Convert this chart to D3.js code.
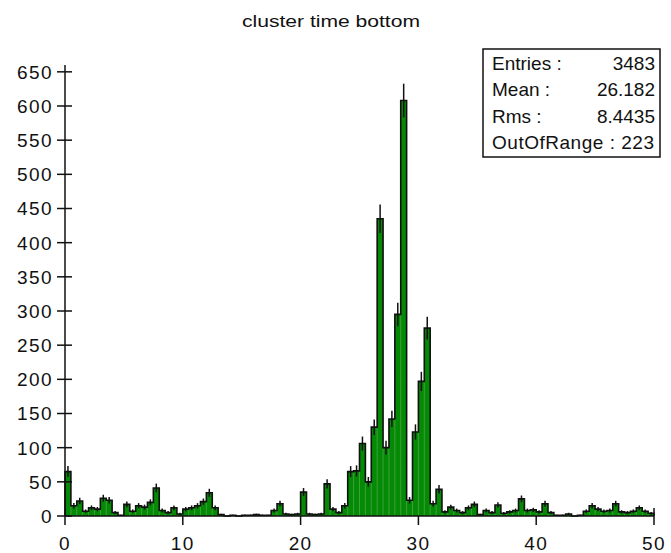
<!DOCTYPE html>
<html>
<head>
<meta charset="utf-8">
<script src="https://cdn.jsdelivr.net/npm/d3@7"></script>
<style>
  body { margin: 0; background: #fff; }
  text { font-family: "Liberation Sans", Arial, sans-serif; fill: #111; }
</style>
</head>
<body>
<div id="chart"></div>
<script>
const title = "cluster time  bottom";
const binLow = 0, binHigh = 50, binWidth = 0.5;
const counts = [
    65, 15, 22, 7, 12, 10, 26, 23, 5, 1,
    17, 7, 15, 13, 20, 41, 8, 5, 12, 3,
    10, 12, 15, 21, 34, 12, 2, 0, 1, 0,
    1, 1, 2, 1, 1, 8, 18, 3, 2, 3,
    35, 3, 2, 3, 47, 10, 5, 15, 65, 66,
    106, 50, 130, 435, 100, 142, 295, 608, 23, 123,
    197, 275, 18, 39, 6, 13, 8, 5, 12, 17,
    2, 8, 5, 16, 4, 6, 8, 25, 8, 9,
    6, 18, 5, 1, 1, 3, 0, 1, 7, 15,
    10, 7, 8, 18, 6, 5, 7, 12, 7, 4
];
const xTicks = [0, 10, 20, 30, 40, 50];
const yTicks = d3.range(0, 651, 50);
const statLabels = ["Entries :", "Mean :", "Rms :", "OutOfRange : 223"];
const statValues = ["3483", "26.182", "8.4435", ""];

const W = 671, H = 553;
const margin = { top: 65, right: 17, bottom: 37, left: 65 };

const svg = d3.select("#chart").append("svg")
    .attr("width", W).attr("height", H);

const x = d3.scaleLinear().domain([binLow, binHigh]).range([margin.left, W - margin.right]);
const y = d3.scaleLinear().domain([0, 660]).range([H - margin.bottom, margin.top]);

const bins = counts.map((c, i) => ({ x0: binLow + i * binWidth, x1: binLow + (i + 1) * binWidth, n: c }));

// histogram outline points (step after), closed on the baseline
const pts = [[binLow, 0]].concat(bins.map(b => [b.x0, b.n]),
    [[binHigh, counts[counts.length - 1]], [binHigh, 0]]);
const step = d3.line().x(d => x(d[0])).y(d => y(d[1])).curve(d3.curveStepAfter);

svg.append("path")
    .attr("d", step(pts))
    .attr("fill", "#058a05")
    .attr("stroke", "none");

// faint bin separators inside the fill
svg.append("g").selectAll("line")
    .data(bins.slice(1))
    .join("line")
    .attr("x1", d => x(d.x0)).attr("x2", d => x(d.x0))
    .attr("y1", y(0))
    .attr("y2", (d, i) => y(Math.min(d.n, bins[i].n)))
    .attr("stroke", "#4aa64a")
    .attr("stroke-width", 0.8);

svg.append("path")
    .attr("d", step(pts))
    .attr("fill", "none")
    .attr("stroke", "#111")
    .attr("stroke-width", 1.6);

// error bars
svg.append("g").selectAll("line")
    .data(bins.filter(b => b.n > 0))
    .join("line")
    .attr("x1", d => x((d.x0 + d.x1) / 2)).attr("x2", d => x((d.x0 + d.x1) / 2))
    .attr("y1", d => y(d.n - Math.sqrt(d.n)))
    .attr("y2", d => y(d.n + Math.sqrt(d.n)))
    .attr("stroke", "#111")
    .attr("stroke-width", 1.5);

// axes
const axisG = svg.append("g").attr("stroke", "#111").attr("stroke-width", 1.5);
axisG.append("line")
    .attr("x1", x(binLow)).attr("x2", x(binLow))
    .attr("y1", y(0)).attr("y2", margin.top);
axisG.append("line")
    .attr("x1", x(binLow)).attr("x2", x(binHigh))
    .attr("y1", y(0)).attr("y2", y(0));

axisG.selectAll(".ytick")
    .data(yTicks)
    .join("line")
    .attr("x1", x(binLow) - 8).attr("x2", x(binLow) + 7)
    .attr("y1", d => y(d)).attr("y2", d => y(d));

axisG.selectAll(".xtick")
    .data(xTicks)
    .join("line")
    .attr("x1", d => x(d)).attr("x2", d => x(d))
    .attr("y1", d => d === binHigh ? y(0) - 8 : y(0))
    .attr("y2", y(0) + 9);

const fs = 19;

svg.append("g").selectAll("text")
    .data(yTicks)
    .join("text")
    .attr("x", x(binLow) - 12)
    .attr("y", d => y(d))
    .attr("dy", "0.36em")
    .attr("text-anchor", "end")
    .attr("font-size", fs)
    .attr("letter-spacing", 1.4)
    .text(d => d);

svg.append("g").selectAll("text")
    .data(xTicks)
    .join("text")
    .attr("x", d => x(d))
    .attr("y", y(0) + 34)
    .attr("text-anchor", "middle")
    .attr("font-size", fs)
    .attr("letter-spacing", 1.4)
    .text(d => d);

// title
svg.append("text")
    .attr("x", 331).attr("y", 27)
    .attr("text-anchor", "middle")
    .attr("font-size", 16)
    .attr("textLength", 178)
    .attr("lengthAdjust", "spacingAndGlyphs")
    .text(title);

// stats box
const box = svg.append("g");
box.append("rect")
    .attr("x", 483).attr("y", 49)
    .attr("width", 177).attr("height", 108)
    .attr("fill", "#fff")
    .attr("stroke", "#111")
    .attr("stroke-width", 1.5);
box.selectAll(".lab")
    .data(statLabels)
    .join("text")
    .attr("x", 492)
    .attr("y", (d, i) => 70 + i * 26.3)
    .attr("font-size", fs)
    .attr("textLength", (d, i) => i === 3 ? 162 : null)
    .text(d => d);
box.selectAll(".val")
    .data(statValues)
    .join("text")
    .attr("x", 655)
    .attr("y", (d, i) => 70 + i * 26.3)
    .attr("text-anchor", "end")
    .attr("font-size", fs)
    .text(d => d);
</script>
</body>
</html>
